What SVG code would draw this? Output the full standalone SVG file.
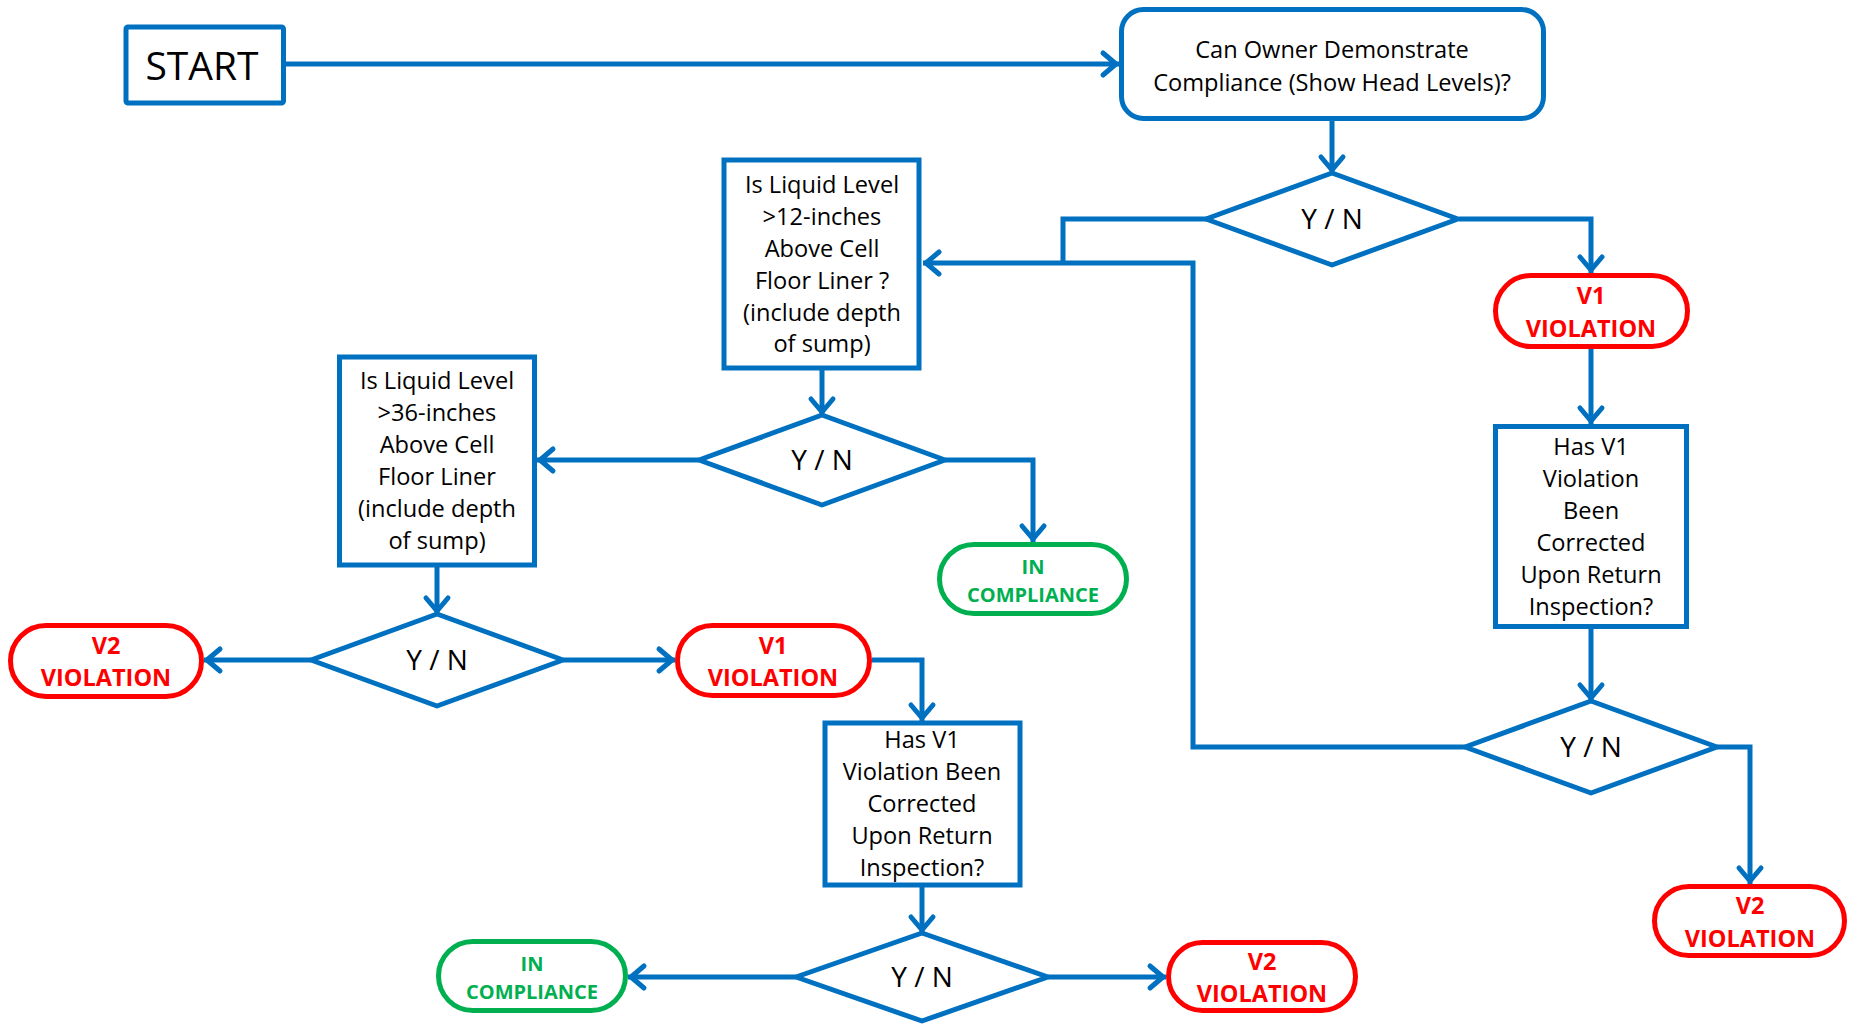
<svg xmlns="http://www.w3.org/2000/svg" width="1852" height="1027" viewBox="0 0 1852 1027">
<style>
.box{fill:#fff;stroke:#0070C0;stroke-width:5}
.dia{fill:#fff;stroke:#0070C0;stroke-width:5;stroke-linejoin:round}
.red{fill:#fff;stroke:#FF0000;stroke-width:5}
.grn{fill:#fff;stroke:#00B050;stroke-width:5}
.conn path{fill:none;stroke:#0070C0;stroke-width:5;stroke-linejoin:miter}
.arr{marker-end:url(#ah)}
text{font-family:"Open Sans","Liberation Sans",sans-serif;text-anchor:middle;fill:#000;font-size:23.6px}
.yn{font-size:28px}
.st{font-size:39px}
.vt{font-weight:bold;font-size:23.5px;fill:#FF0000}
.ct{font-weight:bold;font-size:20px;fill:#00B050}
</style>
<defs>
<marker id="ah" markerUnits="userSpaceOnUse" viewBox="-20 -15 26 30" markerWidth="26" markerHeight="30" refX="3" refY="0" orient="auto" overflow="visible">
<path d="M-13,-11 L0,0 L-13,11" fill="none" stroke="#0070C0" stroke-width="5" stroke-linecap="round" stroke-linejoin="round"/>
</marker>
</defs>
<rect width="1852" height="1027" fill="#fff"/>

<g id="connectors" class="conn">
<path class="arr" d="M285,64 H1119"/>
<path class="arr" d="M1332,121 V173"/>
<path d="M1207,219 H1063 V263"/>
<path class="arr" d="M1465,747 H1193 V263 H923"/>
<path class="arr" d="M1459,219 H1591 V273"/>
<path class="arr" d="M1591,349 V424"/>
<path class="arr" d="M1591,629 V701"/>
<path class="arr" d="M1717,747 H1750 V884"/>
<path class="arr" d="M822,370 V415"/>
<path class="arr" d="M699,460 H537"/>
<path class="arr" d="M945,460 H1033 V542"/>
<path class="arr" d="M437,567 V614"/>
<path class="arr" d="M311,660 H204"/>
<path class="arr" d="M563,660 H675"/>
<path class="arr" d="M872,660 H922 V721"/>
<path class="arr" d="M922,887 V933"/>
<path class="arr" d="M796,977 H628"/>
<path class="arr" d="M1048,977 H1166"/>
</g>

<g id="start">
<rect class="box" x="126" y="27" width="157.5" height="76" rx="2"/>
<text class="st" x="202" y="80">START</text>
</g>

<g id="can-owner">
<rect class="box" x="1121.5" y="9.5" width="422" height="109" rx="22"/>
<text x="1332" y="58">Can Owner Demonstrate</text>
<text x="1332" y="91">Compliance (Show Head Levels)?</text>
</g>

<g id="decision1">
<polygon class="dia" points="1332,173 1458,219 1332,265 1206,219"/>
<text class="yn" x="1332" y="229">Y / N</text>
</g>

<g id="level12">
<rect class="box" x="724" y="160" width="195" height="208"/>
<text x="822" y="193">Is Liquid Level</text>
<text x="822" y="225">&gt;12-inches</text>
<text x="822" y="257">Above Cell</text>
<text x="822" y="289">Floor Liner ?</text>
<text x="822" y="321">(include depth</text>
<text x="822" y="352">of sump)</text>
</g>

<g id="decision2">
<polygon class="dia" points="822,415 945,460 822,505 699,460"/>
<text class="yn" x="822" y="470">Y / N</text>
</g>

<g id="compliance1">
<rect class="grn" x="939.5" y="544.5" width="187" height="69" rx="34.5"/>
<text class="ct" x="1033" y="574">IN</text>
<text class="ct" x="1033" y="602">COMPLIANCE</text>
</g>

<g id="level36">
<rect class="box" x="339.5" y="357" width="195" height="208"/>
<text x="437" y="389">Is Liquid Level</text>
<text x="437" y="421">&gt;36-inches</text>
<text x="437" y="453">Above Cell</text>
<text x="437" y="485">Floor Liner</text>
<text x="437" y="517">(include depth</text>
<text x="437" y="549">of sump)</text>
</g>

<g id="decision4">
<polygon class="dia" points="437,614 563,660 437,706 311,660"/>
<text class="yn" x="437" y="670">Y / N</text>
</g>

<g id="v2-left">
<rect class="red" x="10.5" y="625.5" width="191" height="71" rx="35.5"/>
<text class="vt" x="106" y="654">V2</text>
<text class="vt" x="106" y="686">VIOLATION</text>
</g>

<g id="v1-mid">
<rect class="red" x="677.5" y="625.5" width="192" height="70" rx="35"/>
<text class="vt" x="773" y="654">V1</text>
<text class="vt" x="773" y="686">VIOLATION</text>
</g>

<g id="corrected-mid">
<rect class="box" x="825" y="723" width="195" height="162"/>
<text x="922" y="748">Has V1</text>
<text x="922" y="780">Violation Been</text>
<text x="922" y="812">Corrected</text>
<text x="922" y="844">Upon Return</text>
<text x="922" y="876">Inspection?</text>
</g>

<g id="decision5">
<polygon class="dia" points="922,933 1048,977 922,1021 796,977"/>
<text class="yn" x="922" y="987">Y / N</text>
</g>

<g id="compliance2">
<rect class="grn" x="438.5" y="941.5" width="187" height="69" rx="34.5"/>
<text class="ct" x="532" y="971">IN</text>
<text class="ct" x="532" y="999">COMPLIANCE</text>
</g>

<g id="v2-bottom">
<rect class="red" x="1168.5" y="942.5" width="187" height="68" rx="34"/>
<text class="vt" x="1262" y="970">V2</text>
<text class="vt" x="1262" y="1002">VIOLATION</text>
</g>

<g id="v1-right">
<rect class="red" x="1495.5" y="275.5" width="192" height="71" rx="35.5"/>
<text class="vt" x="1591" y="304">V1</text>
<text class="vt" x="1591" y="337">VIOLATION</text>
</g>

<g id="corrected-right">
<rect class="box" x="1495.5" y="426.5" width="191" height="200"/>
<text x="1591" y="455">Has V1</text>
<text x="1591" y="487">Violation</text>
<text x="1591" y="519">Been</text>
<text x="1591" y="551">Corrected</text>
<text x="1591" y="583">Upon Return</text>
<text x="1591" y="615">Inspection?</text>
</g>

<g id="decision6">
<polygon class="dia" points="1591,701 1717,747 1591,793 1465,747"/>
<text class="yn" x="1591" y="757">Y / N</text>
</g>

<g id="v2-right">
<rect class="red" x="1654.5" y="886.5" width="190" height="69" rx="34.5"/>
<text class="vt" x="1750" y="914">V2</text>
<text class="vt" x="1750" y="947">VIOLATION</text>
</g>
</svg>
